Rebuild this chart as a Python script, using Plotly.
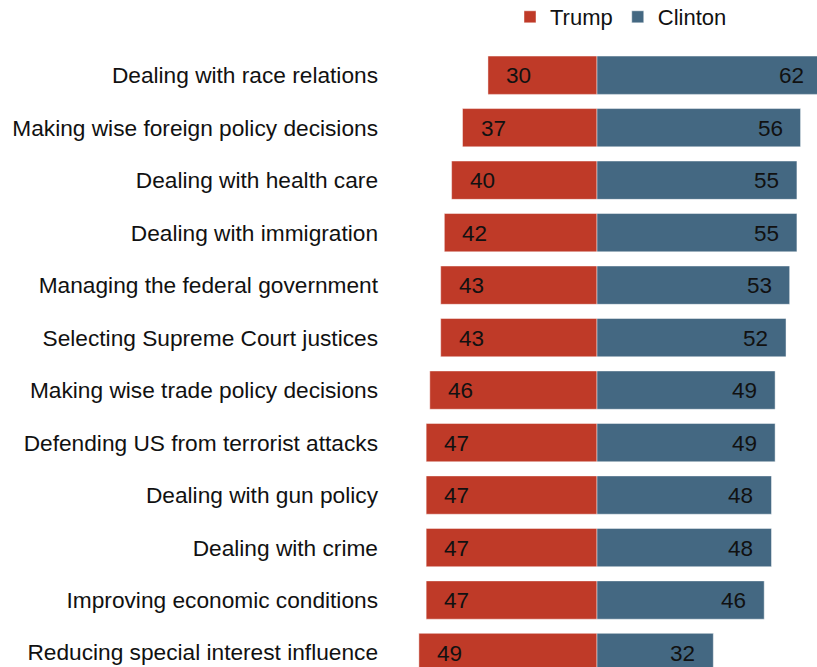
import plotly.graph_objects as go

# Share of voters saying each candidate would do a better job on each issue (%)
issues = [
    "Dealing with race relations",
    "Making wise foreign policy decisions",
    "Dealing with health care",
    "Dealing with immigration",
    "Managing the federal government",
    "Selecting Supreme Court justices",
    "Making wise trade policy decisions",
    "Defending US from terrorist attacks",
    "Dealing with gun policy",
    "Dealing with crime",
    "Improving economic conditions",
    "Reducing special interest influence",
]
trump = [30, 37, 40, 42, 43, 43, 46, 47, 47, 47, 47, 49]
clinton = [62, 56, 55, 55, 53, 52, 49, 49, 48, 48, 46, 32]

TRUMP_COLOR = "#BF3A28"
CLINTON_COLOR = "#446882"
FONT = "Liberation Sans, Arial, sans-serif"
TEXT_COLOR = "#111111"

PX_PER_UNIT = 3.635          # horizontal scale of the value axis
LABEL_PAD = 16 / PX_PER_UNIT  # inset of value labels from the bar ends, in axis units

fig = go.Figure()
fig.add_trace(go.Bar(
    name="Trump", y=issues, x=[-v for v in trump], orientation="h",
    marker=dict(color=TRUMP_COLOR, line=dict(color="rgba(255,255,255,0.45)", width=1)),
    width=0.73, customdata=trump, hovertemplate="%{y}: %{customdata}<extra>Trump</extra>",
))
fig.add_trace(go.Bar(
    name="Clinton", y=issues, x=clinton, orientation="h",
    marker=dict(color=CLINTON_COLOR, line=dict(color="rgba(255,255,255,0.45)", width=1)),
    width=0.73, hovertemplate="%{y}: %{x}<extra>Clinton</extra>",
))

annotations = []
for issue, t, c in zip(issues, trump, clinton):
    annotations.append(dict(x=-t + LABEL_PAD, y=issue, xref="x", yref="y", text=str(t),
                            xanchor="left", showarrow=False, height=24,
                            font=dict(family=FONT, size=22.5, color=TEXT_COLOR)))
    annotations.append(dict(x=c - LABEL_PAD, y=issue, xref="x", yref="y", text=str(c),
                            xanchor="right", showarrow=False, height=24,
                            font=dict(family=FONT, size=22.5, color=TEXT_COLOR)))

fig.update_layout(
    width=817, height=667,
    margin=dict(l=382, r=0, t=49, b=0),
    paper_bgcolor="white", plot_bgcolor="white",
    barmode="relative", bargap=0.27,
    font=dict(family=FONT, size=22, color=TEXT_COLOR),
    showlegend=True,
    legend=dict(orientation="h", x=(510 - 382) / 435, xanchor="left",
                y=1 - 17 / 667, yref="container", yanchor="middle",
                font=dict(family=FONT, size=22, color=TEXT_COLOR),
                bgcolor="rgba(0,0,0,0)", borderwidth=0,
                traceorder="normal", tracegroupgap=0),
    xaxis=dict(range=[-(597 - 382) / PX_PER_UNIT, 220 / PX_PER_UNIT], visible=False, fixedrange=True),
    yaxis=dict(categoryorder="array", categoryarray=issues,
               range=[11.276, -0.5], showgrid=False, zeroline=False,
               showline=False, ticks="", ticklabelstandoff=3,
               tickfont=dict(family=FONT, size=22.7, color=TEXT_COLOR),
               fixedrange=True),
    annotations=annotations,
)

fig.write_html("out.html")
